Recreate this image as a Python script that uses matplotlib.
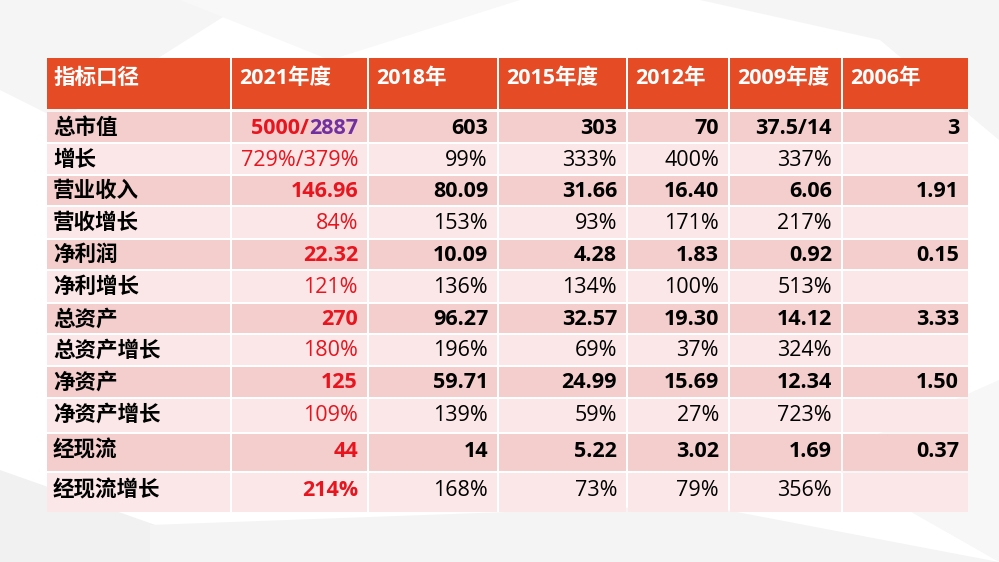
import matplotlib
matplotlib.use('Agg')
import matplotlib.pyplot as plt
from matplotlib.patches import Rectangle, Polygon

plt.rcParams['font.family'] = ['Open Sans', 'Noto Sans CJK SC', 'DejaVu Sans']

# ---- table data ----
headers = ['指标口径', '2021年度', '2018年', '2015年度', '2012年', '2009年度', '2006年']
row_labels = ['总市值', '增长', '营业收入', '营收增长', '净利润', '净利增长',
              '总资产', '总资产增长', '净资产', '净资产增长', '经现流', '经现流增长']
col_2021 = ['5000/2887', '729%/379%', '146.96', '84%', '22.32', '121%',
            '270', '180%', '125', '109%', '44', '214%']
col_2018 = ['603', '99%', '80.09', '153%', '10.09', '136%',
            '96.27', '196%', '59.71', '139%', '14', '168%']
col_2015 = ['303', '333%', '31.66', '93%', '4.28', '134%',
            '32.57', '69%', '24.99', '59%', '5.22', '73%']
col_2012 = ['70', '400%', '16.40', '171%', '1.83', '100%',
            '19.30', '37%', '15.69', '27%', '3.02', '79%']
col_2009 = ['37.5/14', '337%', '6.06', '217%', '0.92', '513%',
            '14.12', '324%', '12.34', '723%', '1.69', '356%']
col_2006 = ['3', '', '1.91', '', '0.15', '',
            '3.33', '', '1.50', '', '0.37', '']
value_cols = [col_2021, col_2018, col_2015, col_2012, col_2009, col_2006]

# ---- layout (pixels) ----
col_edges = [46, 231, 368, 498, 627, 729, 842, 969]
header_top, header_bot = 58, 109
row_heights = [32, 32, 31, 33, 31, 33, 31, 32, 32, 35, 39, 41]
first_row_top = 111

HEADER_BG = '#E54B24'
DARK_BG = '#F4CDCD'
LIGHT_BG = '#FBE7E7'
RED = '#E8141E'
PURPLE = '#7030A0'
FS = 15.5

fig = plt.figure(figsize=(9.99, 5.62), dpi=100)
ax = fig.add_axes([0, 0, 1, 1])
ax.set_xlim(0, 999)
ax.set_ylim(562, 0)
ax.axis('off')

# subtle background shapes
bg_shapes = [
    ([(0, 0), (250, 0), (60, 120), (0, 90)], '#F5F5F5'),
    ([(180, 0), (520, 0), (330, 60)], '#F8F8F8'),
    ([(700, 0), (999, 0), (999, 140), (880, 40)], '#F5F5F5'),
    ([(0, 470), (260, 562), (0, 562)], '#F1F1F1'),
    ([(150, 525), (700, 505), (999, 562), (150, 562)], '#F4F4F4'),
    ([(820, 460), (999, 380), (999, 562)], '#F7F7F7'),
]
for pts, c in bg_shapes:
    ax.add_patch(Polygon(pts, closed=True, facecolor=c, edgecolor='none', zorder=0))

gap = 1.0

# header
for j, h in enumerate(headers):
    x0, x1 = col_edges[j], col_edges[j + 1]
    ax.add_patch(Rectangle((x0 + gap, header_top), x1 - x0 - 2 * gap,
                           header_bot - header_top, facecolor=HEADER_BG,
                           edgecolor='none', zorder=1))
    ax.text(x0 + 8, header_top + 20, h, color='white', fontsize=FS,
            fontweight='bold', ha='left', va='center', zorder=3)

# body
row_tops = []
y = first_row_top
for hgt in row_heights:
    row_tops.append(y)
    y += hgt

fig.canvas.draw()
renderer = fig.canvas.get_renderer()

for i, lab in enumerate(row_labels):
    top = row_tops[i]
    hgt = row_heights[i]
    bg = DARK_BG if i % 2 == 0 else LIGHT_BG
    bold_row = (i % 2 == 0)
    ty = top + 17 + (hgt - 32) * 0.2
    for j in range(len(headers)):
        x0, x1 = col_edges[j], col_edges[j + 1]
        ax.add_patch(Rectangle((x0 + gap, top + gap), x1 - x0 - 2 * gap,
                               hgt - 2 * gap, facecolor=bg, edgecolor='none',
                               zorder=1))
    ax.text(col_edges[0] + 7, ty, lab, color='black', fontsize=FS,
            fontweight='bold', ha='left', va='center', zorder=3)
    for j, col in enumerate(value_cols):
        val = col[i]
        if not val:
            continue
        xr = col_edges[j + 2] - 10
        if j == 0:
            bold = bold_row or i == len(row_labels) - 1
            weight = 'bold' if bold else 'normal'
            if '/' in val and i == 0:
                left, right = val.split('/')
                t2 = ax.text(xr, ty, right, color=PURPLE, fontsize=FS,
                             fontweight=weight, ha='right', va='center', zorder=3)
                bb = t2.get_window_extent(renderer=renderer)
                xl = ax.transData.inverted().transform((bb.x0, bb.y0))[0]
                ax.text(xl, ty, left + '/', color=RED, fontsize=FS,
                        fontweight=weight, ha='right', va='center', zorder=3)
            else:
                ax.text(xr, ty, val, color=RED, fontsize=FS, fontweight=weight,
                        ha='right', va='center', zorder=3)
        else:
            weight = 'bold' if bold_row else 'normal'
            ax.text(xr, ty, val, color='black', fontsize=FS, fontweight=weight,
                    ha='right', va='center', zorder=3)

fig.savefig('out.png', dpi=100, facecolor='white')
